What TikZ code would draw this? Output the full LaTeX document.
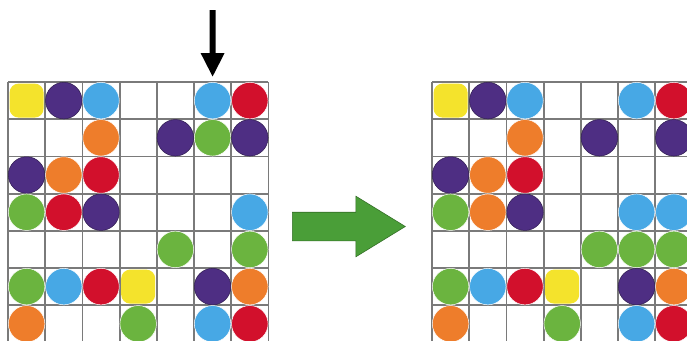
\documentclass[tikz,border=0pt]{standalone}
\usetikzlibrary{arrows.meta,shapes.arrows,positioning}
\definecolor{dotyellow}{HTML}{F4E32C}
\definecolor{dotpurple}{HTML}{4E2E83}
\definecolor{dotblue}{HTML}{47A8E5}
\definecolor{dotred}{HTML}{D2102C}
\definecolor{dotorange}{HTML}{EE7D2B}
\definecolor{dotgreen}{HTML}{6BB43F}
\definecolor{movegreen}{HTML}{4A9E38}
\definecolor{gridgray}{HTML}{7A7A7A}
\tikzset{
cell/.style={draw=gridgray, line width=1.8pt}, % grid lines of a board
dot/.style={circle, minimum size=36.5pt, inner sep=0pt, draw=white, line width=0.5pt},
dotY/.style={rectangle, rounded corners=9pt, minimum size=34pt, fill=dotyellow, draw=none},
dotP/.style={fill=dotpurple, draw=dotpurple!60!black},
dotB/.style={fill=dotblue},
dotR/.style={fill=dotred},
dotO/.style={fill=dotorange},
dotG/.style={fill=dotgreen},
droparrow/.style={line width=6pt, -{Triangle[width=22pt,length=24pt]}},
move/.style={single arrow, anchor=tail, fill=movegreen, draw=movegreen!70!black,
    line width=0.6pt, inner sep=14pt, minimum height=113pt,
    single arrow head extend=16pt, single arrow tip angle=63},
}
% #1 name, #2 left edge, #3 rows (x = empty cell)
\newcommand\drawboard[3]{
  \begin{scope}[shift={(#2,82)}]
    \foreach \k in {0,...,7} {
      \draw[cell] (\k*37.2,0) -- (\k*37.2,260.4);
      \draw[cell] (0,\k*37.2) -- (260.4,\k*37.2);
    }
    \foreach \line [count=\j] in {#3}
      \foreach \c [count=\i] in \line {
        \if x\c\else
          \node[dot, dot\c] (#1-\i-\j) at (\i*37.2-18.6, \j*37.2-18.6) {};
        \fi
      }
  \end{scope}
}

\begin{document}
\begin{tikzpicture}[x=1pt,y=-1pt]
   \useasboundingbox (0,0) rectangle (687,340);
   \clip (0,0) rectangle (687,340);
   \fill[white] (0,0) rectangle (687,340);
   \drawboard{L}{8}{{Y,P,B,x,x,B,R},{x,x,O,x,P,G,P},{P,O,R,x,x,x,x},
      {G,R,P,x,x,x,B},{x,x,x,x,G,x,G},{G,B,R,Y,x,P,O},{O,x,x,G,x,B,R}}
   \drawboard{R}{432}{{Y,P,B,x,x,B,R},{x,x,O,x,P,x,P},{P,O,R,x,x,x,x},
      {G,O,P,x,x,B,B},{x,x,x,x,G,G,G},{G,B,R,Y,x,P,O},{O,x,x,G,x,B,R}}
   \coordinate (drop) at (212.6,10);
   \draw[droparrow] (drop) -- ([yshift=5pt]L-6-1.north);
   \node[move] (move) at (292,226.5) {};
\end{tikzpicture}
\end{document}
